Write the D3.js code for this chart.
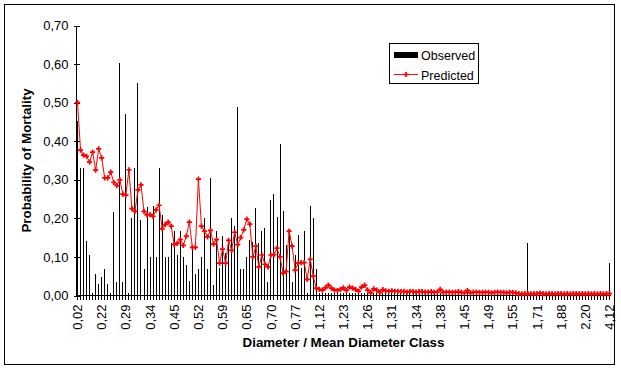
<!DOCTYPE html>
<html>
<head>
<meta charset="utf-8">
<script src="https://cdn.jsdelivr.net/npm/d3@7"></script>
<style>
  html, body { margin: 0; padding: 0; background: #fff; }
  svg { display: block; }
  text { font-family: "Liberation Sans", Arial, sans-serif; fill: #000; }
</style>
</head>
<body>
<svg id="chart" width="621" height="371"></svg>
<script>
// ---- data ----
const tickLabels = ["0,02","0,22","0,29","0,34","0,45","0,52","0,59","0,65","0,70","0,77",
  "1,12","1,23","1,26","1,31","1,34","1,38","1,45","1,49","1,55","1,71","1,88","2,20","4,12"];
const labelEvery = 8;

const observed = [
  0.452,0.33,0.33,0.142,0.104,0,0.055,0.029,0.049,0.068,
  0.029,0,0.216,0.034,0.603,0.034,0.47,0,0.20,0.33,
  0.551,0.195,0.068,0.229,0.099,0.233,0.099,0.33,0.21,0.099,
  0.099,0.137,0.166,0.104,0.166,0.099,0.078,0.037,0.125,0.055,
  0.068,0.099,0.20,0.068,0.304,0.026,0.166,0.071,0.154,0.11,
  0.133,0.20,0.18,0.488,0.068,0.068,0.099,0.145,0.14,0.226,
  0.135,0.166,0.175,0.034,0.247,0.262,0.203,0.392,0.22,0.132,
  0.166,0.036,0.104,0.156,0.071,0.166,0,0.231,0.20,0.068,
  0,0,0,0,0,0,0,0,0,0,
  0,0,0,0,0,0,0,0,0,0,
  0,0,0,0,0,0,0,0,0,0,
  0,0,0,0,0,0,0,0,0,0,
  0,0,0,0,0,0,0,0,0,0,
  0,0,0,0,0,0,0,0,0,0,
  0,0,0,0,0,0,0,0,0,0.137,
  0,0,0,0,0,0,0,0,0,0,
  0,0,0,0,0,0,0,0,0,0,
  0,0,0,0,0,0,0.083
];

const predicted = [
  0.50,0.377,0.364,0.361,0.346,0.372,0.325,0.38,0.357,0.305,
  0.305,0.32,0.293,0.285,0.30,0.263,0.26,0.326,0.225,0.218,
  0.274,0.287,0.218,0.209,0.21,0.205,0.222,0.234,0.173,0.184,
  0.19,0.18,0.132,0.135,0.145,0.13,0.154,0.19,0.125,0.125,
  0.302,0.18,0.167,0.152,0.169,0.133,0.145,0.084,0.12,0.084,
  0.143,0.117,0.164,0.132,0.15,0.17,0.198,0.185,0.10,0.128,
  0.074,0.105,0.081,0.074,0.105,0.106,0.123,0.10,0.058,0.062,
  0.167,0.128,0.066,0.084,0.085,0.085,0.042,0.094,0.05,0.019,
  0.016,0.014,0.02,0.027,0.019,0.014,0.013,0.016,0.02,0.013,
  0.022,0.019,0.016,0.011,0.022,0.027,0.014,0.007,0.017,0.014,
  0.008,0.015,0.012,0.011,0.012,0.011,0.011,0.010,0.011,0.009,
  0.011,0.010,0.009,0.010,0.010,0.009,0.009,0.010,0.008,0.009,
  0.016,0.008,0.009,0.009,0.008,0.009,0.010,0.008,0.007,0.013,
  0.007,0.009,0.009,0.008,0.008,0.009,0.008,0.007,0.008,0.009,
  0.008,0.008,0.007,0.008,0.008,0.007,0.005,0.004,0.005,0.005,
  0.004,0.005,0.005,0.006,0.005,0.004,0.005,0.005,0.004,0.005,
  0.005,0.004,0.005,0.004,0.005,0.005,0.004,0.005,0.004,0.005,
  0.004,0.005,0.004,0.005,0.004,0.005,0.005
];

const yTicks = [0,0.1,0.2,0.3,0.4,0.5,0.6,0.7];
const seriesNames = ["Observed","Predicted"];
const yTitle = "Probability of Mortality";
const xTitle = "Diameter / Mean Diameter Class";

// ---- layout ----
const svg = d3.select("#chart");
const pL = 76, pR = 611, pT = 25.5, pB = 295.5;
const idx = d3.range(predicted.length);

const x = d3.scaleBand().domain(idx).range([pL, pR]).padding(0);
const y = d3.scaleLinear().domain([0, 0.7]).range([pB, pT]);
const cx = i => x(i) + x.bandwidth() / 2;
const fmt = v => d3.format(".2f")(v).replace(".", ",");

// outer border
svg.append("rect").attr("x", 4.5).attr("y", 4.5).attr("width", 610).attr("height", 360)
  .attr("fill", "none").attr("stroke", "#000").attr("stroke-width", 1);

// bars
svg.append("g").attr("shape-rendering", "crispEdges")
  .selectAll("rect").data(idx.filter(i => observed[i] > 0)).join("rect")
  .attr("x", i => Math.round(cx(i) - 0.5))
  .attr("width", 1)
  .attr("y", i => y(observed[i]))
  .attr("height", i => pB - y(observed[i]))
  .attr("fill", "#000");

// y axis (crossing ticks)
const yAxisL = d3.axisLeft(y).tickValues(yTicks).tickSize(3).tickFormat(fmt).tickPadding(5);
const yAxisR = d3.axisRight(y).tickValues(yTicks).tickSize(3).tickFormat("");
const gyl = svg.append("g").attr("transform", `translate(${pL + 0.5},0)`).call(yAxisL);
const gyr = svg.append("g").attr("transform", `translate(${pL + 0.5},0)`).call(yAxisR);
gyr.select(".domain").remove();
gyl.select(".domain").attr("d", `M0,${pB}V${pT}`);
gyl.selectAll("text").attr("font-size", 13).attr("font-family", "Liberation Sans, Arial, sans-serif");

// x axis (crossing ticks at every category)
const xAxisB = d3.axisBottom(x).tickValues(idx).tickSize(4).tickFormat("");
const xAxisT = d3.axisTop(x).tickValues(idx).tickSize(3).tickFormat("");
const gxb = svg.append("g").attr("transform", `translate(0,${pB})`).call(xAxisB);
const gxt = svg.append("g").attr("transform", `translate(0,${pB})`).call(xAxisT);
gxt.select(".domain").remove();
gxb.select(".domain").attr("d", `M${pL},0H${pR}`);
svg.selectAll(".tick line").attr("stroke", "#000").attr("shape-rendering", "crispEdges");
svg.selectAll(".domain").attr("stroke", "#000").attr("shape-rendering", "crispEdges");

// x tick labels (every 8th category)
svg.append("g").selectAll("text")
  .data(tickLabels.map((t, k) => ({ t, i: k * labelEvery })))
  .join("text")
  .attr("transform", d => `translate(${cx(d.i)},${pB + 9}) rotate(-90)`)
  .attr("text-anchor", "end")
  .attr("dy", "0.35em")
  .attr("font-size", 13)
  .text(d => d.t);

// predicted line
const line = d3.line().x(i => cx(i)).y(i => y(predicted[i]));
svg.append("path").datum(idx).attr("d", line)
  .attr("fill", "none").attr("stroke", "#ff0000").attr("stroke-width", 1);
const sym = d3.symbol().type(d3.symbolCross).size(15);
svg.append("g").selectAll("path").data(idx).join("path")
  .attr("transform", i => `translate(${cx(i)},${y(predicted[i])})`)
  .attr("d", sym).attr("fill", "#ff0000");

// titles
svg.append("text").attr("x", (pL + pR) / 2).attr("y", 347)
  .attr("text-anchor", "middle").attr("font-weight", "bold").attr("font-size", 13.3)
  .text(xTitle);
svg.append("text").attr("transform", `translate(31,${(pT + pB) / 2}) rotate(-90)`)
  .attr("text-anchor", "middle").attr("font-weight", "bold").attr("font-size", 13.3)
  .text(yTitle);

// legend
const lg = svg.append("g");
lg.append("rect").attr("x", 389.5).attr("y", 43.5).attr("width", 89).attr("height", 40)
  .attr("fill", "#fff").attr("stroke", "#000");
lg.append("rect").attr("x", 394).attr("y", 52).attr("width", 24).attr("height", 6).attr("fill", "#000");
lg.append("line").attr("x1", 394).attr("x2", 418).attr("y1", 74.5).attr("y2", 74.5)
  .attr("stroke", "#ff0000").attr("stroke-width", 1);
lg.append("path").attr("transform", "translate(406,74.5)").attr("d", sym).attr("fill", "#ff0000");
lg.append("text").attr("x", 421).attr("y", 59.5).attr("font-size", 12.5).text(seriesNames[0]);
lg.append("text").attr("x", 421).attr("y", 79.5).attr("font-size", 12.5).text(seriesNames[1]);
</script>
</body>
</html>
